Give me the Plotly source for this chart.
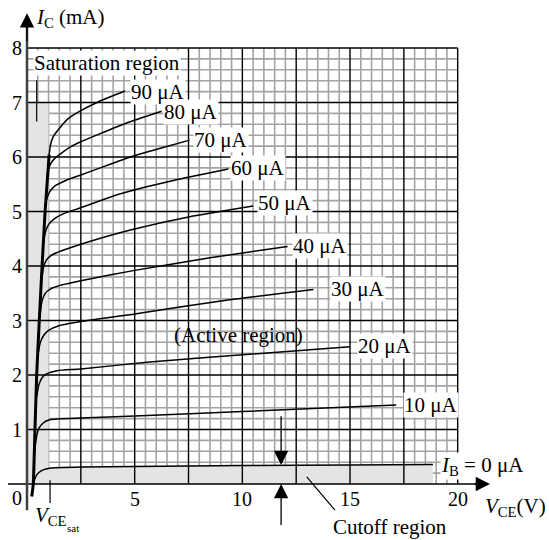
# %% BJT output characteristics (I_C vs V_CE) with saturation / active / cutoff regions
import plotly.graph_objects as go

# %% values (V_CE in V, I_C in mA)
sat_v = [0.22, 0.29, 0.37, 0.45, 0.57, 0.70, 0.84, 1.03]
sat_i = [-0.23, 0.0, 1.0, 2.0, 3.0, 4.0, 5.0, 6.05]

v_ib0 = [0.29, 0.40, 0.55, 0.75, 1.05, 2.5, 5.0, 10.0, 15.0, 18.85]
i_ib0 = [0.0, 0.13, 0.21, 0.26, 0.29, 0.31, 0.32, 0.34, 0.35, 0.36]
v_ib10 = [0.35, 0.45, 0.55, 0.75, 1.05, 2.5, 5.0, 10.0, 17.15]
i_ib10 = [0.60, 0.88, 1.02, 1.12, 1.18, 1.21, 1.25, 1.33, 1.45]
v_ib20 = [0.45, 0.55, 0.70, 0.90, 1.40, 2.5, 5.7, 10.0, 15.0]
i_ib20 = [1.60, 1.82, 1.95, 2.02, 2.08, 2.11, 2.24, 2.37, 2.52]
v_ib30 = [0.52, 0.62, 0.78, 1.00, 1.45, 2.5, 5.0, 9.0, 13.3]
i_ib30 = [2.40, 2.60, 2.73, 2.82, 2.90, 2.98, 3.12, 3.36, 3.57]
v_ib40 = [0.60, 0.70, 0.85, 1.10, 1.60, 2.5, 5.0, 8.5, 12.1]
i_ib40 = [3.10, 3.36, 3.50, 3.58, 3.65, 3.73, 3.92, 4.15, 4.36]
v_ib50 = [0.68, 0.78, 0.92, 1.15, 1.60, 2.5, 4.8, 7.5, 10.5]
i_ib50 = [3.75, 4.00, 4.12, 4.20, 4.28, 4.40, 4.66, 4.90, 5.10]
v_ib60 = [0.75, 0.85, 1.00, 1.25, 1.70, 2.5, 4.3, 6.8, 9.35]
i_ib60 = [4.40, 4.62, 4.76, 4.86, 4.96, 5.07, 5.32, 5.57, 5.78]
v_ib70 = [0.82, 0.90, 1.05, 1.30, 1.80, 2.5, 3.4, 4.8, 6.2, 7.55]
i_ib70 = [5.00, 5.20, 5.36, 5.47, 5.57, 5.67, 5.80, 6.00, 6.16, 6.31]
v_ib80 = [0.92, 0.98, 1.10, 1.30, 1.60, 2.0, 2.5, 3.4, 4.6, 6.25]
i_ib80 = [5.60, 5.75, 5.88, 5.98, 6.07, 6.18, 6.28, 6.43, 6.62, 6.84]
v_ib90 = [1.03, 1.08, 1.20, 1.45, 1.90, 2.5, 3.3, 4.55]
i_ib90 = [6.05, 6.20, 6.36, 6.50, 6.70, 6.85, 7.01, 7.21]

curve_labels = ["10 μA", "20 μA", "30 μA", "40 μA", "50 μA",
                "60 μA", "70 μA", "80 μA", "90 μA"]
curves_v = [v_ib10, v_ib20, v_ib30, v_ib40, v_ib50, v_ib60, v_ib70, v_ib80, v_ib90]
curves_i = [i_ib10, i_ib20, i_ib30, i_ib40, i_ib50, i_ib60, i_ib70, i_ib80, i_ib90]

x_ticks = [5, 10, 15, 20]
y_ticks = [1, 2, 3, 4, 5, 6, 7, 8]

# %%
FONT = "Liberation Serif, Times New Roman, serif"
GRAY = "#e4e4e4"
CURVE = dict(color="black", width=1.5, shape="spline", smoothing=0.5)

fig = go.Figure()

# shaded cutoff strip under the I_B = 0 curve
fig.add_trace(go.Scatter(x=v_ib0, y=i_ib0, mode="lines", fill="tozeroy",
                         fillcolor=GRAY, line=CURVE, hoverinfo="skip"))
for v, i in zip(curves_v, curves_i):
    fig.add_trace(go.Scatter(x=v, y=i, mode="lines", line=CURVE, hoverinfo="skip"))
# saturation boundary
fig.add_trace(go.Scatter(
    x=sat_v, y=sat_i, mode="lines",
    line=dict(color="black", width=3, shape="spline", smoothing=0.5),
    hoverinfo="skip",
))

shapes = []
# minor grid (0.5 V x 0.2 mA), hidden by the shaded regions
for k in range(1, 40):
    if k % 5:
        shapes.append(dict(type="line", x0=k * 0.5, x1=k * 0.5, y0=0, y1=8,
                           line=dict(color="#a3a3a3", width=1.6), layer="below"))
for k in range(1, 40):
    if k % 5:
        shapes.append(dict(type="line", x0=0, x1=20, y0=k * 0.2, y1=k * 0.2,
                           line=dict(color="#a3a3a3", width=1.6), layer="below"))
# saturation strip
shapes.append(dict(type="rect", x0=0, x1=1, y0=0, y1=7, fillcolor=GRAY,
                   line=dict(width=0), layer="below"))
# major grid
for k in range(1, 9):
    shapes.append(dict(type="line", x0=k * 2.5, x1=k * 2.5, y0=0, y1=8,
                       line=dict(color="black", width=1.4), layer="above"))
for k in range(1, 9):
    shapes.append(dict(type="line", x0=0, x1=20, y0=k, y1=k,
                       line=dict(color="black", width=1.4), layer="above"))
# axes
shapes.append(dict(type="line", x0=-0.88, x1=21.2, y0=0, y1=0,
                   line=dict(color="black", width=1.6), layer="above"))
shapes.append(dict(type="line", x0=0, x1=0, y0=-0.48, y1=8.4,
                   line=dict(color="#404040", width=2.5), layer="above"))
# pointers
shapes.append(dict(type="line", x0=0.45, x1=0.45, y0=7.41, y1=6.65,
                   line=dict(color="black", width=1.2), layer="above"))
shapes.append(dict(type="line", x0=1.07, x1=1.07, y0=0.07, y1=-0.35,
                   line=dict(color="black", width=1.2), layer="above"))
shapes.append(dict(type="line", x0=12.99, x1=14.3, y0=0.13, y1=-0.48,
                   line=dict(color="black", width=1.2), layer="above"))

ann = []
txt = dict(family=FONT, size=20, color="black")
for t in y_ticks:
    ann.append(dict(x=-0.46, y=t, text=str(t), showarrow=False, font=txt))
ann.append(dict(x=-0.48, y=-0.26, text="0", showarrow=False, font=txt))
for t in x_ticks:
    ann.append(dict(x=t, y=-0.27, text=str(t), showarrow=False, font=txt))

lab = dict(family=FONT, size=21, color="black")
label_pos = [(17.46, 1.45), (15.31, 2.54), (14.07, 3.58), (12.29, 4.37),
             (10.68, 5.15), (9.43, 5.80), (7.71, 6.31), (6.32, 6.83), (4.78, 7.19)]
for name, (x, y) in zip(curve_labels, label_pos):
    ann.append(dict(x=x, y=y, text=name, showarrow=False, xanchor="left",
                    font=lab, bgcolor="white", borderpad=0))
ann.append(dict(x=19.18, y=0.33, text="<i>I</i><sub>B</sub> = 0 μA", showarrow=False,
                xanchor="left", font=lab, bgcolor="white", borderpad=0))
ann.append(dict(x=0.28, y=7.72, text="Saturation region", showarrow=False,
                xanchor="left", font=lab, bgcolor="white", borderpad=0))
ann.append(dict(x=6.72, y=2.73, text="(Active region)", showarrow=False,
                xanchor="left", font=lab))
ann.append(dict(x=16.86, y=-0.78, text="Cutoff region", showarrow=False, font=lab))
ann.append(dict(x=0.33, y=8.55, text="<i>I</i><sub>C</sub> (mA)", showarrow=False,
                xanchor="left", font=lab))
ann.append(dict(x=21.17, y=-0.42, text="<i>V</i><sub>CE</sub>(V)", showarrow=False,
                xanchor="left", font=lab))
ann.append(dict(x=0.28, y=-0.59, text="<i>V</i><sub>CE</sub>", showarrow=False,
                xanchor="left", font=lab))
ann.append(dict(x=2.14, y=-0.8, text="sat", showarrow=False,
                font=dict(family=FONT, size=11, color="black")))

# arrow heads
arrow = dict(text="", showarrow=True, axref="x", ayref="y", arrowhead=2,
             arrowsize=2.2, arrowwidth=1.3, arrowcolor="black")
ann.append(dict(x=0, y=8.64, ax=0, ay=8.1, **arrow))
ann.append(dict(x=21.5, y=0, ax=20.7, ay=0, **arrow))
ann.append(dict(x=11.8, y=0.35, ax=11.8, ay=1.27, **arrow))
ann.append(dict(x=11.8, y=0.0, ax=11.8, ay=-0.78, **arrow))

fig.update_layout(
    width=549, height=540, margin=dict(l=0, r=0, t=0, b=0),
    paper_bgcolor="white", plot_bgcolor="white", showlegend=False,
    xaxis=dict(range=[-1.254, 24.24], visible=False, fixedrange=True),
    yaxis=dict(range=[-1.0275, 8.881], visible=False, fixedrange=True),
    shapes=shapes, annotations=ann,
)
# the page's default body margin would shift the drawing by 8 px
fig.write_html("out.html", config={"displayModeBar": False},
               post_script="document.body.style.margin = '0';")
